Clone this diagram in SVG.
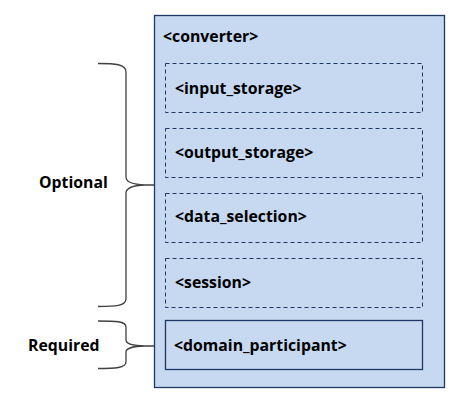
<svg xmlns="http://www.w3.org/2000/svg" width="463" height="409" viewBox="0 0 463 409">
<style>
text{font-family:"Open Sans","Liberation Sans",sans-serif;font-weight:700;font-size:15.8px;fill:#000}
.outer{fill:#C6D9F1;stroke:#1F3864;stroke-width:1.3}
.opt{fill:#C6D9F1;stroke:#1F3864;stroke-width:1;stroke-dasharray:4 3}
.req{fill:#C6D9F1;stroke:#1F3864;stroke-width:1.3}
.brace{fill:none;stroke:#404040;stroke-width:1.3}
</style>
<rect width="463" height="409" fill="#fff"/>
<g id="converter">
<rect class="outer" x="154.5" y="15.5" width="290" height="372"/>
<text x="163" y="42">&lt;converter&gt;</text>
</g>
<g id="input_storage">
<rect class="opt" x="165.5" y="63.5" width="257" height="49"/>
<text x="175" y="94">&lt;input_storage&gt;</text>
</g>
<g id="output_storage">
<rect class="opt" x="165.5" y="128.5" width="257" height="49"/>
<text x="175" y="158">&lt;output_storage&gt;</text>
</g>
<g id="data_selection">
<rect class="opt" x="165.5" y="193.5" width="257" height="49"/>
<text x="175" y="222">&lt;data_selection&gt;</text>
</g>
<g id="session">
<rect class="opt" x="165.5" y="258.5" width="257" height="49"/>
<text x="175" y="288">&lt;session&gt;</text>
</g>
<g id="domain_participant">
<rect class="req" x="165.5" y="320.5" width="257" height="49"/>
<text x="174" y="351">&lt;domain_participant&gt;</text>
</g>
<g id="connectors">
<path class="brace" d="M98,63.5 C115,63.5 126,64 126,72 L126,177 C126,182 132,184.5 145,185 L154,185 M145,185 C132,185.5 126,188 126,193 L126,299 C126,306 115,306.5 98,306.5"/>
<path class="brace" d="M98,321 C115,321 126,321 126,327 L126,340 C126,344 132,345.5 145,346 L154,346 M145,346 C132,346.5 126,348 126,352 L126,362 C126,368 115,368.5 98,368.5"/>
</g>
<g id="labels">
<text x="39" y="188">Optional</text>
<text x="28" y="351">Required</text>
</g>
</svg>
